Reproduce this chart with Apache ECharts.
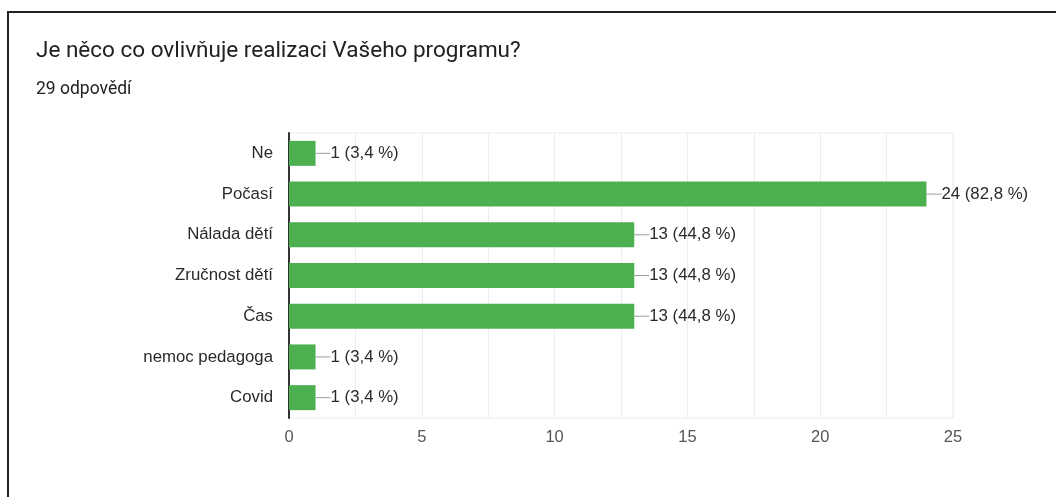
<!DOCTYPE html>
<html>
<head>
<meta charset="utf-8">
<script src="https://cdn.jsdelivr.net/npm/echarts@6/dist/echarts.min.js"></script>
<style>
  html, body { margin: 0; padding: 0; background: #fff; }
  #frame {
    position: absolute; left: 7px; top: 11px; width: 1049px; height: 486px;
    border-left: 2px solid #222; border-top: 2px solid #222; box-sizing: border-box;
  }
  #chart { position: absolute; left: 0; top: 0; width: 1056px; height: 497px; }
</style>
</head>
<body>
<div id="frame"></div>
<div id="chart"></div>
<script>
// odpovědi
const categories = ['Ne', 'Počasí', 'Nálada dětí', 'Zručnost dětí', 'Čas', 'nemoc pedagoga', 'Covid']
const counts = [1, 24, 13, 13, 13, 1, 1]
const totalResponses = 29
const xTicks = [0, 5, 10, 15, 20, 25]

const chart = echarts.init(document.getElementById('chart'))

const labelFont = '"Liberation Sans", Arial, sans-serif'

const option = {
  animation: false,
  textStyle: { fontFamily: labelFont },
  title: {
    text: 'Je něco co ovlivňuje realizaci Vašeho programu?',
    subtext: totalResponses + ' odpovědí',
    left: 31,
    top: 35,
    itemGap: 18,
    textStyle: { fontFamily: 'Roboto, sans-serif', fontSize: 22.5, fontWeight: 'normal', color: '#202124' },
    subtextStyle: { fontFamily: 'Roboto, sans-serif', fontSize: 17.5, color: '#202124' }
  },
  grid: {
    left: 289,
    right: 103,
    top: 133,
    bottom: 79,
    show: true,
    borderColor: '#ececec',
    borderWidth: 1
  },
  xAxis: {
    type: 'value',
    min: 0,
    max: 25,
    interval: 2.5,
    axisLine: { show: false },
    axisTick: { show: false },
    axisLabel: {
      color: '#555',
      fontSize: 16.5,
      margin: 11,
      formatter: (v) => (xTicks.indexOf(v) >= 0 ? String(v) : '')
    },
    splitLine: { show: true, lineStyle: { color: '#ececec', width: 1 } }
  },
  yAxis: {
    type: 'category',
    data: categories,
    inverse: true,
    axisLine: { show: true, lineStyle: { color: '#333', width: 2 } },
    axisTick: { show: false },
    axisLabel: { color: '#2a2a2a', fontSize: 16.8, margin: 16 }
  },
  series: [
    {
      type: 'bar',
      data: counts,
      barWidth: 25,
      itemStyle: { color: '#4caf50' },
      label: {
        show: true,
        position: 'right',
        distance: 0,
        formatter: (p) => {
          const pct = (p.value / totalResponses * 100).toFixed(1).replace('.', ',')
          return '{l|}{t|' + p.value + ' (' + pct + ' %)}'
        },
        rich: {
          l: { width: 15, height: 1, backgroundColor: '#9e9e9e' },
          t: { fontSize: 16.8, color: '#2a2a2a' }
        }
      }
    }
  ]
}

chart.setOption(option)
</script>
</body>
</html>
